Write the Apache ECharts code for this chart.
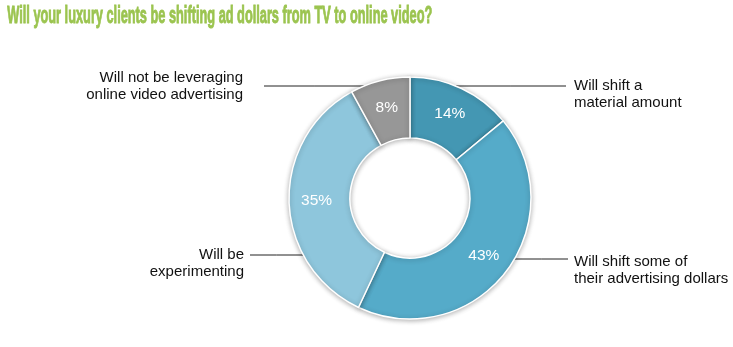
<!DOCTYPE html>
<html><head><meta charset="utf-8">
<script src="https://cdn.jsdelivr.net/npm/echarts@6/dist/echarts.min.js"></script>
<style>html,body{margin:0;padding:0;background:#fff}#c{width:733px;height:347px}</style>
</head><body><div id="c"></div>
<script>
const categories = ['Will shift a\nmaterial amount', 'Will shift some of\ntheir advertising dollars', 'Will be\nexperimenting', 'Will not be leveraging\nonline video advertising'];
const values = [14, 43, 35, 8];
const titleText = 'Will your luxury clients be shifting ad dollars from TV to online video?';
const colors = ['#4497b3', '#55abc9', '#8ec6dc', '#979797'];

const CX = 410, CY = 198, R0 = 60, R1 = 121;
const labelCfg = [
  {side: 'right', lineY: 86, lineEnd: 566, textX: 574, textY: 94.5},
  {side: 'right', lineY: 259, lineEnd: 568, textX: 574, textY: 270.5},
  {side: 'left', lineY: 255, lineEnd: 250, textX: 244, textY: 263},
  {side: 'left', lineY: 86, lineEnd: 264, textX: 243, textY: 86}
];

const titleFont = 'bold 23px "Liberation Sans", Arial, sans-serif';
const cv = document.createElement('canvas').getContext('2d');
cv.font = titleFont;
const tw = cv.measureText(titleText).width;
const titleScale = 425 / tw;

const data = categories.map((c, i) => ({name: c, value: values[i], itemStyle: {color: colors[i]}}));

const chart = echarts.init(document.getElementById('c'), null, {renderer: 'canvas'});
chart.setOption({
  animation: false,
  backgroundColor: '#fff',
  graphic: [{
    type: 'text', left: 7, top: 5, scaleX: titleScale, originX: 0,
    style: {text: titleText, font: titleFont, fill: '#9bc44f', stroke: '#9bc44f', lineWidth: 0.9}
  }],
  series: [{
    type: 'pie', center: [CX, CY], radius: [R0, R1], startAngle: 90, clockwise: true,
    silent: true,
    data: data,
    itemStyle: {borderColor: '#fff', borderWidth: 1.5, shadowBlur: 5, shadowColor: 'rgba(0,0,0,0.3)', shadowOffsetY: 1},
    label: {position: 'inside', formatter: '{c}%', color: '#fff', fontSize: 15.5, fontFamily: '"Liberation Sans", Arial, sans-serif'},
    labelLine: {show: false}
  }, {
    type: 'pie', center: [CX, CY], radius: [R0, R1], startAngle: 90, clockwise: true,
    silent: true, z: 1,
    data: categories.map((c, i) => ({name: c, value: values[i]})),
    itemStyle: {color: 'rgba(0,0,0,0)', borderWidth: 0},
    label: {position: 'outside', formatter: '{b}', color: '#111', fontSize: 15, lineHeight: 17,
      fontFamily: '"Liberation Sans", Arial, sans-serif'},
    labelLine: {show: true, length: 10, length2: 10, lineStyle: {color: '#222', width: 1}},
    labelLayout: function (p) {
      const c = labelCfg[p.dataIndex];
      const dy = c.lineY - CY;
      const dx = Math.sqrt(Math.max(0, R1 * R1 - dy * dy));
      const ex = c.side === 'right' ? CX + dx : CX - dx;
      return {
        x: c.textX, y: c.textY,
        align: c.side === 'right' ? 'left' : 'right',
        verticalAlign: 'middle',
        labelLinePoints: [[ex, c.lineY], [(ex + c.lineEnd) / 2, c.lineY], [c.lineEnd, c.lineY]]
      };
    }
  }]
});
</script></body></html>
